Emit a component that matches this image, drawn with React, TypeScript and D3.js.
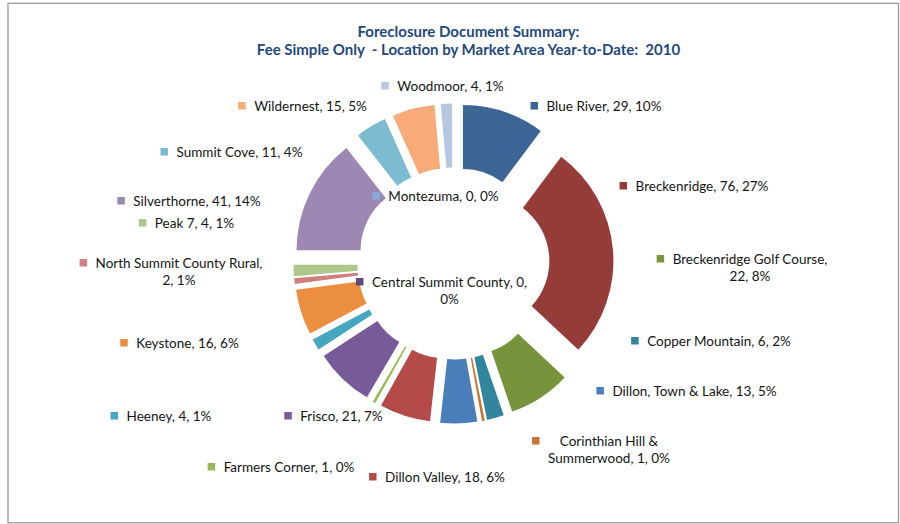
import React, { useEffect, useRef } from "react";
import * as d3 from "d3";

// ---- data ----
const categories = [
  "Blue River",
  "Breckenridge",
  "Breckenridge Golf Course",
  "Central Summit County",
  "Copper Mountain",
  "Corinthian Hill & Summerwood",
  "Dillon, Town & Lake",
  "Dillon Valley",
  "Farmers Corner",
  "Frisco",
  "Heeney",
  "Keystone",
  "Montezuma",
  "North Summit County Rural",
  "Peak 7",
  "Silverthorne",
  "Summit Cove",
  "Wildernest",
  "Woodmoor",
];
const values = [29, 76, 22, 0, 6, 1, 13, 18, 1, 21, 4, 16, 0, 2, 4, 41, 11, 15, 4];
const titleLines = [
  "Foreclosure Document Summary:",
  "Fee Simple Only  - Location by Market Area Year-to-Date:  2010",
];

// ---- style / layout ----
const colors = [
  "#3C6596", "#953B3A", "#77933C", "#604A7B", "#31859C", "#C77636",
  "#4A7EBB", "#B44B48", "#98B954", "#765B98", "#46A5BF", "#EB8E3F",
  "#8AA9D8", "#D17F7E", "#ADC888", "#9C88B3", "#7DBBD0", "#F8AB78", "#B7C7E0",
];
// label block centre [x, y of first line] and number of words on first line (0 = no wrap)
const labelLayout: [number, number, number][] = [
  [604, 106, 0],
  [702, 186, 0],
  [750, 259, 3],
  [449.5, 282, 4],
  [719, 341, 0],
  [609, 441, 3],
  [694.5, 391, 0],
  [445, 477, 0],
  [289, 467, 0],
  [341.5, 416, 0],
  [169, 416, 0],
  [187.5, 343, 0],
  [443.5, 196, 0],
  [179, 263, 4],
  [194.5, 223, 0],
  [197, 201, 0],
  [239.5, 152, 0],
  [310.5, 106, 0],
  [450.5, 86, 0],
];

const W = 900;
const H = 524;
const CX = 453.5;
const CY = 263.5;
const R_OUT = 130;
const R_IN = 66;
const EXPLODE = 30;
const FONT = "Lato, 'Open Sans', sans-serif";

export default function App() {
  const ref = useRef<SVGSVGElement>(null);

  useEffect(() => {
    const svg = d3.select(ref.current);
    svg.selectAll("*").remove();

    svg
      .append("rect")
      .attr("x", 8)
      .attr("y", 3.3)
      .attr("width", 890.5)
      .attr("height", 519.5)
      .attr("fill", "#fff")
      .attr("stroke", "#9a9a9a")
      .attr("stroke-width", 1.3);

    // title
    svg
      .append("g")
      .selectAll("text")
      .data(titleLines)
      .join("text")
      .attr("x", 468.5)
      .attr("y", (_, i) => 36.5 + i * 18)
      .attr("text-anchor", "middle")
      .attr("font-family", FONT)
      .attr("font-weight", "bold")
      .attr("font-size", 15)
      .attr("fill", "#1F497D")
      .style("white-space", "pre")
      .text((d) => d);

    const total = d3.sum(values);
    const pie = d3
      .pie<number>()
      .sort(null)
      .value((d) => d)
      .startAngle(0)
      .endAngle(2 * Math.PI);
    const arcs = pie(values);
    const arc = d3.arc<d3.PieArcDatum<number>>().innerRadius(R_IN).outerRadius(R_OUT);

    const g = svg.append("g").attr("transform", `translate(${CX},${CY})`);
    g.selectAll("path")
      .data(arcs.filter((a) => a.value > 0))
      .join("path")
      .attr("d", (a) => arc(a) as string)
      .attr("fill", (a) => colors[a.index])
      .attr("transform", (a) => {
        const m = (a.startAngle + a.endAngle) / 2;
        return `translate(${EXPLODE * Math.sin(m)},${-EXPLODE * Math.cos(m)})`;
      });

    // labels
    const lg = svg.append("g");
    categories.forEach((name, i) => {
      const v = values[i];
      const p = Math.round((v / total) * 100);
      const full = `${name}, ${v}, ${p}%`;
      const [x, y, w1] = labelLayout[i];
      const words = full.split(" ");
      const lines = w1 > 0 ? [words.slice(0, w1).join(" "), words.slice(w1).join(" ")] : [full];
      const grp = lg.append("g");
      let maxW = 0;
      lines.forEach((ln, k) => {
        const t = grp
          .append("text")
          .attr("x", x)
          .attr("y", y + k * 17.5)
          .attr("dy", "0.35em")
          .attr("text-anchor", "middle")
          .attr("font-family", FONT)
          .attr("font-size", 13.5)
          .attr("fill", "#141414")
          .text(ln);
        const node = t.node() as SVGTextElement;
        maxW = Math.max(maxW, node.getComputedTextLength());
      });
      const mx = x - maxW / 2 - 16;
      grp
        .append("rect")
        .attr("x", mx)
        .attr("y", y - 4)
        .attr("width", 7.5)
        .attr("height", 7.5)
        .attr("fill", colors[i]);
    });
  }, []);

  return (
    <svg
      ref={ref}
      width={W}
      height={H}
      style={{ position: "absolute", left: 0, top: 0, display: "block" }}
    />
  );
}
